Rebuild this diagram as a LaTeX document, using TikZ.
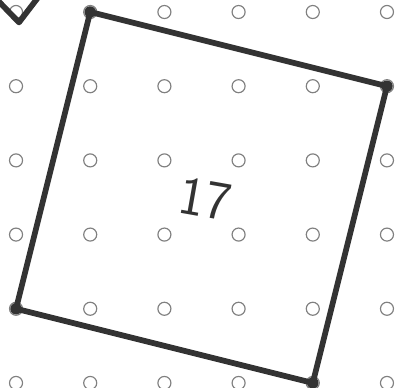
\documentclass[tikz,border=0pt]{standalone}
\tikzset{
  pen/.style={line width=2.2pt, color=black!80, line cap=round, line join=round},
  gridpt/.style={draw=black!50, line width=0.45pt, circle, inner sep=0pt, minimum size=5pt}
}
\begin{document}
\begin{tikzpicture}
            \useasboundingbox (-0.216,0.162) rectangle (5.216,-5.067);
            % dot grid
            \foreach \i in {0,...,5}
              \foreach \j in {0,...,5}
                \node[gridpt] (g\i\j) at (\i,-\j) {};
            % corners of the tilted square
            \coordinate (A) at (1,0);
            \coordinate (B) at (5,-1);
            \coordinate (C) at (4,-5);
            \coordinate (D) at (0,-4);
            \draw[pen] (A) -- (B) -- (C) -- (D) -- cycle;
            \foreach \p in {A,B,C,D}
              \fill[black!80] (\p) circle (2.2pt);
            % partial tick in the corner
            \coordinate (T1) at (-0.25,0.16);
            \coordinate (T2) at (0.04,-0.14);
            \coordinate (T3) at (0.3,0.2);
            \draw[pen] (T1) -- (T2) -- (T3);
            \node[rotate=-10, inner sep=0pt, text=black!80, font=\sffamily\fontsize{21}{21}\selectfont] (area) at (2.55,-2.52) {17};
            \end{tikzpicture}
\end{document}
